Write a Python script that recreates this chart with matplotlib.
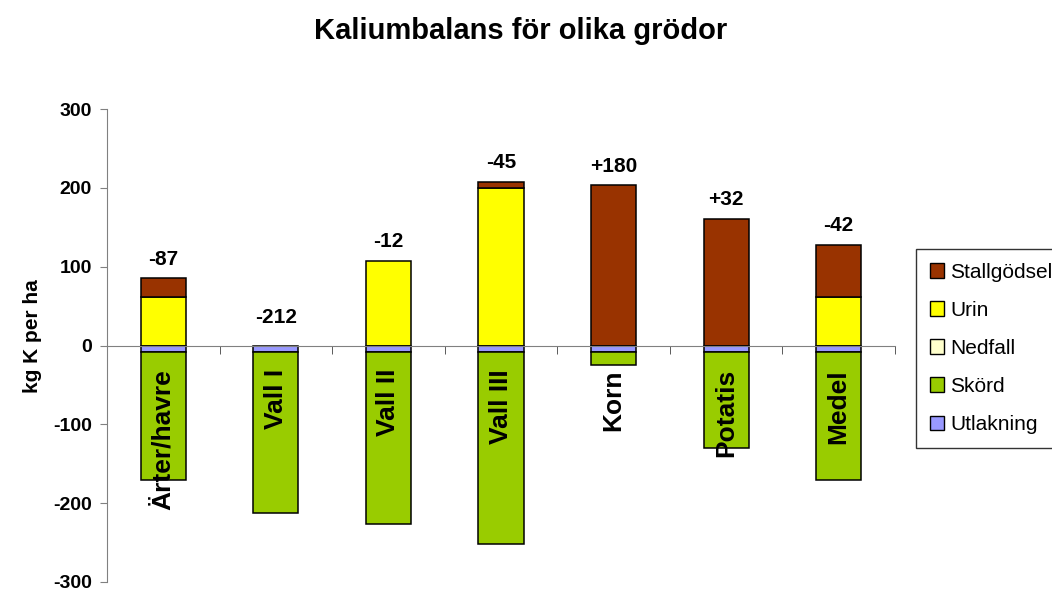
import matplotlib
matplotlib.use('Agg')
import matplotlib.pyplot as plt
from matplotlib.patches import Patch
import numpy as np

# --- data ---
categories = ["Ärter/havre", "Vall I", "Vall II", "Vall III", "Korn", "Potatis", "Medel"]
stallgodsel = [23, 0, 0, 8, 203, 160, 66]
urin = [62, 0, 107, 200, 0, 0, 61]
nedfall = [0, 0, 0, 0, 0, 0, 0]
skord = [-162, -205, -218, -244, -17, -122, -162]
utlakning = [-8, -8, -8, -8, -8, -8, -8]
balance_labels = ["-87", "-212", "-12", "-45", "+180", "+32", "-42"]
yticks = [-300, -200, -100, 0, 100, 200, 300]

colors = {
    "Stallgödsel": "#993300",
    "Urin": "#FFFF00",
    "Nedfall": "#FFFFCC",
    "Skörd": "#99CC00",
    "Utlakning": "#9999FF",
}

plt.rcParams['font.family'] = ['Liberation Sans', 'DejaVu Sans']

fig = plt.figure(figsize=(10.52, 5.92), dpi=100)
ax = fig.add_axes([107 / 1052, 1 - 582 / 592, (895 - 107) / 1052, (582 - 109) / 592])

# spine position first: it resets the ticks
ax.spines['bottom'].set_position(('data', 0))
ax.spines['bottom'].set_color('#808080')
ax.spines['left'].set_color('#808080')
ax.spines['top'].set_visible(False)
ax.spines['right'].set_visible(False)

x = np.arange(len(categories))
w = 0.4
bar_kw = dict(width=w, edgecolor='black', linewidth=1.1)

# positive side: Nedfall, Urin, Stallgödsel
nf = np.array(nedfall, dtype=float)
ur = np.array(urin, dtype=float)
st = np.array(stallgodsel, dtype=float)
mask = nf > 0
if mask.any():
    ax.bar(x[mask], nf[mask], color=colors["Nedfall"], **bar_kw)
mask = ur > 0
ax.bar(x[mask], ur[mask], bottom=nf[mask], color=colors["Urin"], **bar_kw)
mask = st > 0
ax.bar(x[mask], st[mask], bottom=(nf + ur)[mask], color=colors["Stallgödsel"], **bar_kw)

# negative side: Utlakning, Skörd
ut = np.array(utlakning, dtype=float)
sk = np.array(skord, dtype=float)
ax.bar(x, ut, color=colors["Utlakning"], **bar_kw)
ax.bar(x, sk, bottom=ut, color=colors["Skörd"], **bar_kw)

tops = nf + ur + st
for xi, top, lab in zip(x, tops, balance_labels):
    off = 20 if top == 0 else 14
    ax.annotate(lab, (xi, top), xytext=(0, off), textcoords='offset points',
                ha='center', va='center', fontsize=15, fontweight='bold')

ax.set_xlim(-0.5, len(categories) - 0.5)
ax.set_ylim(-300, 300)
ax.set_yticks(yticks)
ax.tick_params(axis='y', direction='out', length=5, color='#808080', pad=6, labelsize=14)
ax.set_yticklabels([str(v) for v in yticks], fontweight='bold')

# names on major ticks at bar centres, boundary marks as minor ticks
ax.set_xticks(x)
ax.set_xticklabels(categories, fontweight='bold', fontsize=19, rotation=90, va='top')
ax.tick_params(axis='x', which='major', length=0, pad=17)
ax.set_xticks(np.arange(-0.5, len(categories), 1.0), minor=True)
ax.tick_params(axis='x', which='minor', direction='out', length=6, color='#404040')

ax.set_ylabel("kg K per ha", fontsize=15, fontweight='bold')
ax.yaxis.set_label_coords(-0.083, 0.52)

fig.text(0.495, 1 - 31 / 592, "Kaliumbalans för olika grödor", ha='center', va='center',
         fontsize=21, fontweight='bold')

order = ["Stallgödsel", "Urin", "Nedfall", "Skörd", "Utlakning"]
handles = [Patch(facecolor=colors[k], edgecolor='black', linewidth=1.0) for k in order]
leg = fig.legend(handles, order, loc='upper left', bbox_to_anchor=(916 / 1052, 1 - 249 / 592),
                 fontsize=15, frameon=True, fancybox=False, edgecolor='black',
                 handlelength=0.7, handleheight=0.7, handletextpad=0.3,
                 labelspacing=0.92, borderpad=0.65, borderaxespad=0)
leg.get_frame().set_linewidth(1.0)

fig.savefig("out.png", dpi=100)
